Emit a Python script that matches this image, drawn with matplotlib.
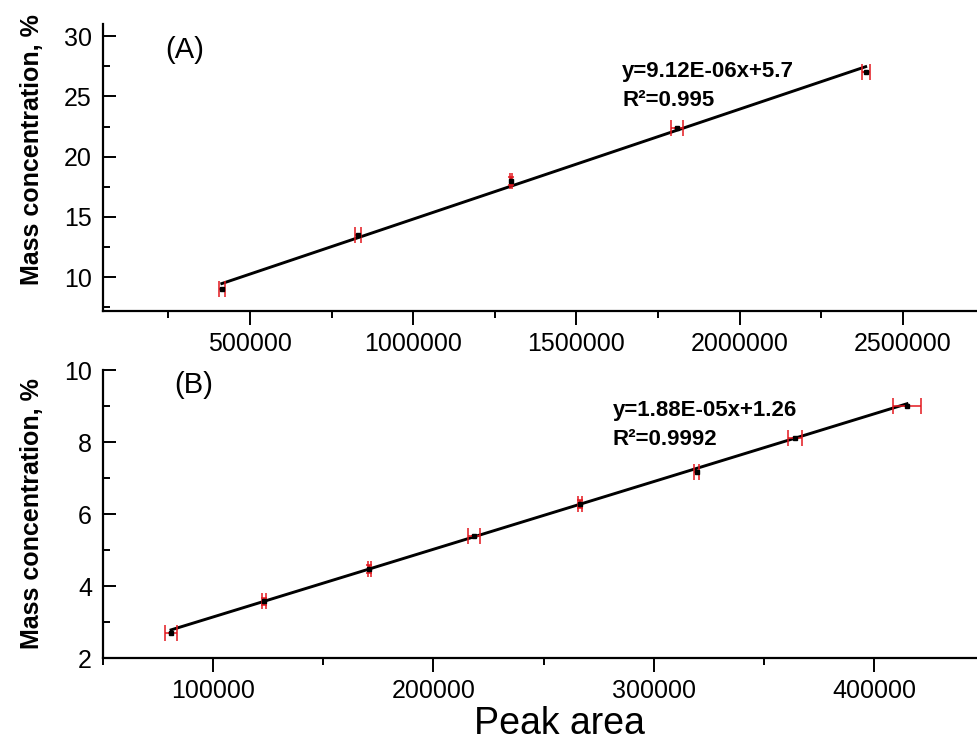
import matplotlib
matplotlib.use("Agg")
import matplotlib.pyplot as plt
import numpy as np
from matplotlib.ticker import MultipleLocator

plt.rcParams['font.family'] = ['Liberation Sans', 'DejaVu Sans']

# Panel A data
a_x = [414000, 830700, 1299000, 1807000, 2386000]
a_y = [9.0, 13.5, 18.0, 22.4, 27.0]
a_xerr = [9000, 9000, 3000, 18000, 12000]
a_yerr = [0, 0, 0.35, 0, 0]
a_slope, a_icpt = 9.12e-06, 5.7
a_eq = "y=9.12E-06x+5.7"
a_r2 = "R²=0.995"

# Panel B data
b_x = [80900, 123200, 170900, 218600, 266400, 319500, 364100, 415000]
b_y = [2.7, 3.58, 4.47, 5.38, 6.28, 7.18, 8.1, 9.0]
b_xerr = [2700, 800, 800, 2700, 900, 1200, 3200, 6200]
b_yerr = [0, 0.1, 0.1, 0, 0.1, 0, 0, 0]
b_slope, b_icpt = 1.88e-05, 1.26
b_eq = "y=1.88E-05x+1.26"
b_r2 = "R²=0.9992"

W, H = 977, 742
fig = plt.figure(figsize=(W / 100, H / 100), dpi=100)

left = 103 / W
width = 1 - left
axA = fig.add_axes([left, (H - 311) / H, width, (311 - 24) / H])
axB = fig.add_axes([left, (H - 658) / H, width, (658 - 370) / H])

red = '#e3171e'

def style(ax):
    for s in ['top', 'right']:
        ax.spines[s].set_visible(False)
    for s in ['left', 'bottom']:
        ax.spines[s].set_linewidth(1.6)
    ax.tick_params(axis='y', which='major', direction='in', length=9, width=1.4, labelsize=18, pad=8)
    ax.tick_params(axis='y', which='minor', direction='in', length=5, width=1.4)
    ax.tick_params(axis='x', which='major', direction='out', length=10, width=1.4, labelsize=18, pad=5)
    ax.tick_params(axis='x', which='minor', direction='out', length=5, width=1.4)

def panel(ax, xs, ys, xerr, yerr, slope, icpt):
    xs = np.array(xs, dtype=float)
    xl = np.array([xs.min(), xs.max()])
    ax.plot(xl, slope * xl + icpt, color='black', lw=2.1, zorder=2)
    ax.errorbar(xs, ys, xerr=xerr, fmt='none', ecolor=red,
                elinewidth=1.1, capsize=5.5, capthick=1.1, zorder=3)
    ax.errorbar(xs, ys, yerr=yerr, fmt='none', ecolor=red,
                elinewidth=1.6, capsize=2.5, capthick=1.1, zorder=3)
    ax.plot(xs, ys, 's', color='black', ms=2.2, zorder=4)

panel(axA, a_x, a_y, a_xerr, a_yerr, a_slope, a_icpt)
panel(axB, b_x, b_y, b_xerr, b_yerr, b_slope, b_icpt)

style(axA)
style(axB)

axA.set_xlim(50000, 2727000)
axA.set_ylim(7.2, 31)
axA.xaxis.set_major_locator(MultipleLocator(500000))
axA.xaxis.set_minor_locator(MultipleLocator(250000))
axA.yaxis.set_major_locator(MultipleLocator(5))
axA.yaxis.set_minor_locator(MultipleLocator(2.5))

axB.set_xlim(50000, 446800)
axB.set_ylim(2, 10)
axB.xaxis.set_major_locator(MultipleLocator(100000))
axB.xaxis.set_minor_locator(MultipleLocator(50000))
axB.yaxis.set_major_locator(MultipleLocator(2))
axB.yaxis.set_minor_locator(MultipleLocator(1))

for ax in (axA, axB):
    ax.ticklabel_format(axis='x', style='plain', useOffset=False)
    ax.set_ylabel("Mass concentration, %", fontsize=18, fontweight='bold')
axA.yaxis.set_label_coords(-0.068, 0.561)
axB.yaxis.set_label_coords(-0.068, 0.5)

axB.set_xlabel("Peak area", fontsize=27)
axB.xaxis.set_label_coords(0.522, -0.165)

axA.text(0.071, 0.909, "(A)", transform=axA.transAxes, fontsize=21, va='center', ha='left')
axA.text(0.594, 0.833, a_eq, transform=axA.transAxes, fontsize=16, fontweight='bold', va='center', ha='left')
axA.text(0.594, 0.735, a_r2, transform=axA.transAxes, fontsize=16, fontweight='bold', va='center', ha='left')

axB.text(0.082, 0.948, "(B)", transform=axB.transAxes, fontsize=21, va='center', ha='left')
axB.text(0.583, 0.861, b_eq, transform=axB.transAxes, fontsize=16, fontweight='bold', va='center', ha='left')
axB.text(0.583, 0.757, b_r2, transform=axB.transAxes, fontsize=16, fontweight='bold', va='center', ha='left')

fig.savefig("out.png", dpi=100)
